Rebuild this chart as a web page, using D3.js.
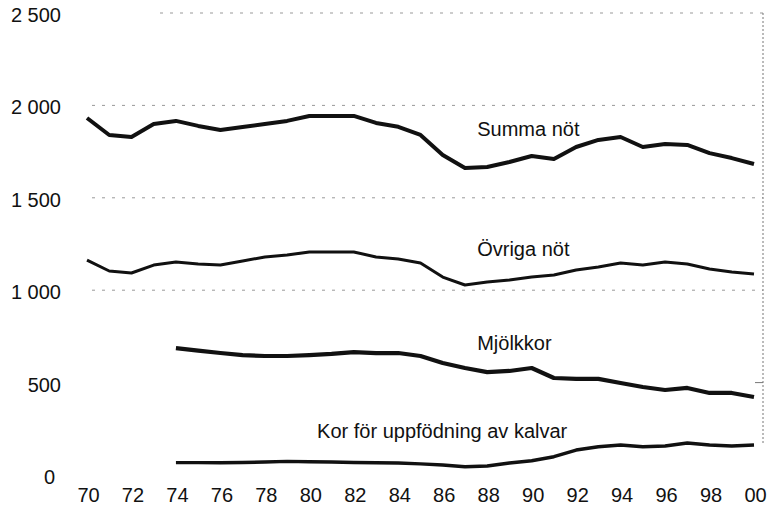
<!DOCTYPE html>
<html>
<head>
<meta charset="utf-8">
<script src="https://cdn.jsdelivr.net/npm/d3@7"></script>
<style>
body { margin: 0; background: #fff; }
svg text { font-family: "Liberation Sans", Arial, sans-serif; fill: #111; }
</style>
</head>
<body>
<svg id="chart" width="768" height="510"></svg>
<script>
var years = d3.range(1970, 2001);
var yTicks = [0, 500, 1000, 1500, 2000, 2500];
var xTicks = [1970, 1972, 1974, 1976, 1978, 1980, 1982, 1984, 1986, 1988, 1990, 1992, 1994, 1996, 1998, 2000];
var gridValues = [1000, 1500, 2000, 2500];

var summaNot = [1932, 1840, 1829, 1899, 1916, 1889, 1867, 1883, 1899, 1916, 1943, 1943, 1943, 1905, 1884, 1840, 1732, 1661, 1667, 1694, 1726, 1710, 1775, 1813, 1829, 1775, 1791, 1786, 1742, 1715, 1683];
var ovrigaNot = [1163, 1104, 1093, 1136, 1153, 1142, 1136, 1158, 1180, 1190, 1207, 1207, 1207, 1180, 1169, 1147, 1071, 1028, 1044, 1055, 1071, 1082, 1109, 1126, 1147, 1136, 1153, 1142, 1115, 1098, 1088];
var mjolkkor = [null, null, null, null, 687, 673, 660, 649, 644, 644, 649, 655, 665, 660, 660, 644, 606, 579, 557, 563, 579, 525, 520, 520, 498, 476, 460, 471, 444, 444, 422];
var korKalvar = [null, null, null, null, 67, 67, 66, 68, 70, 74, 72, 70, 68, 66, 65, 60, 54, 45, 49, 65, 77, 99, 135, 153, 162, 153, 157, 173, 162, 157, 162];

var seriesNames = ["Summa nöt", "Övriga nöt", "Mjölkkor", "Kor för uppfödning av kalvar"];
var seriesValues = [summaNot, ovrigaNot, mjolkkor, korKalvar];
var lineWidths = [4, 3, 4.2, 3.4];
// label anchor: [year, value] where each label's left baseline sits
var labelPos = [[1987.55, 1834], [1987.55, 1185], [1987.55, 676], [1980.35, 200]];

var svg = d3.select("#chart");
var x = d3.scaleLinear().domain([1970, 2000]).range([87, 754]);
var y = d3.scaleLinear().domain([0, 2500]).range([475, 13]);

// dotted grid lines
svg.append("g").selectAll("line").data(gridValues)
	.enter()
	.append("line")
	.attr("x1", function(d) { return d == 2500 ? 160 : 92; })
	.attr("x2", 763)
	.attr("y1", function(d) { return y(d); })
	.attr("y2", function(d) { return y(d); })
	.attr("stroke", "#999")
	.attr("stroke-width", 1)
	.attr("stroke-dasharray", "3,7");

// right frame
svg.append("line")
	.attr("x1", 763).attr("x2", 763)
	.attr("y1", y(2500)).attr("y2", 443)
	.attr("stroke", "#777")
	.attr("stroke-width", 1)
	.attr("stroke-dasharray", "2,2");
svg.append("line")
	.attr("x1", 755).attr("x2", 763)
	.attr("y1", y(500)).attr("y2", y(500))
	.attr("stroke", "#777")
	.attr("stroke-width", 1);

// y axis labels
var yAxis = d3.axisLeft(y).tickValues(yTicks).tickSize(0).tickPadding(0)
	.tickFormat(function(d) { return d3.format(",")(d).replace(",", " "); });
svg.append("g")
	.attr("transform", "translate(61,2)")
	.call(yAxis)
	.call(function(g) {
		g.select(".domain").remove();
		g.selectAll("text").attr("font-size", 20).attr("font-family", "Liberation Sans, Arial, sans-serif").attr("fill", "#111");
		g.selectAll(".tick").filter(function(d) { return d == 0; }).select("text").attr("dx", -6);
	});

// x axis labels
var xAxis = d3.axisBottom(x).tickValues(xTicks).tickSize(0).tickPadding(0)
	.tickFormat(function(d) { return d3.format("02")(d % 100); });
svg.append("g")
	.attr("transform", "translate(1,488)")
	.call(xAxis)
	.call(function(g) {
		g.select(".domain").remove();
		g.selectAll("text").attr("font-size", 20).attr("font-family", "Liberation Sans, Arial, sans-serif").attr("fill", "#111");
	});

// series lines
var line = d3.line()
	.defined(function(d) { return d != null; })
	.x(function(d, i) { return x(years[i]); })
	.y(function(d) { return y(d); });

svg.append("g").selectAll("path").data(seriesValues)
	.enter()
	.append("path")
	.attr("d", function(d) { return line(d); })
	.attr("fill", "none")
	.attr("stroke", "#111")
	.attr("stroke-linejoin", "round")
	.attr("stroke-width", function(d, i) { return lineWidths[i]; });

// series labels
svg.append("g").selectAll("text").data(seriesNames)
	.enter()
	.append("text")
	.attr("x", function(d, i) { return x(labelPos[i][0]); })
	.attr("y", function(d, i) { return y(labelPos[i][1]); })
	.attr("font-size", 20)
	.text(function(d) { return d; });
</script>
</body>
</html>
